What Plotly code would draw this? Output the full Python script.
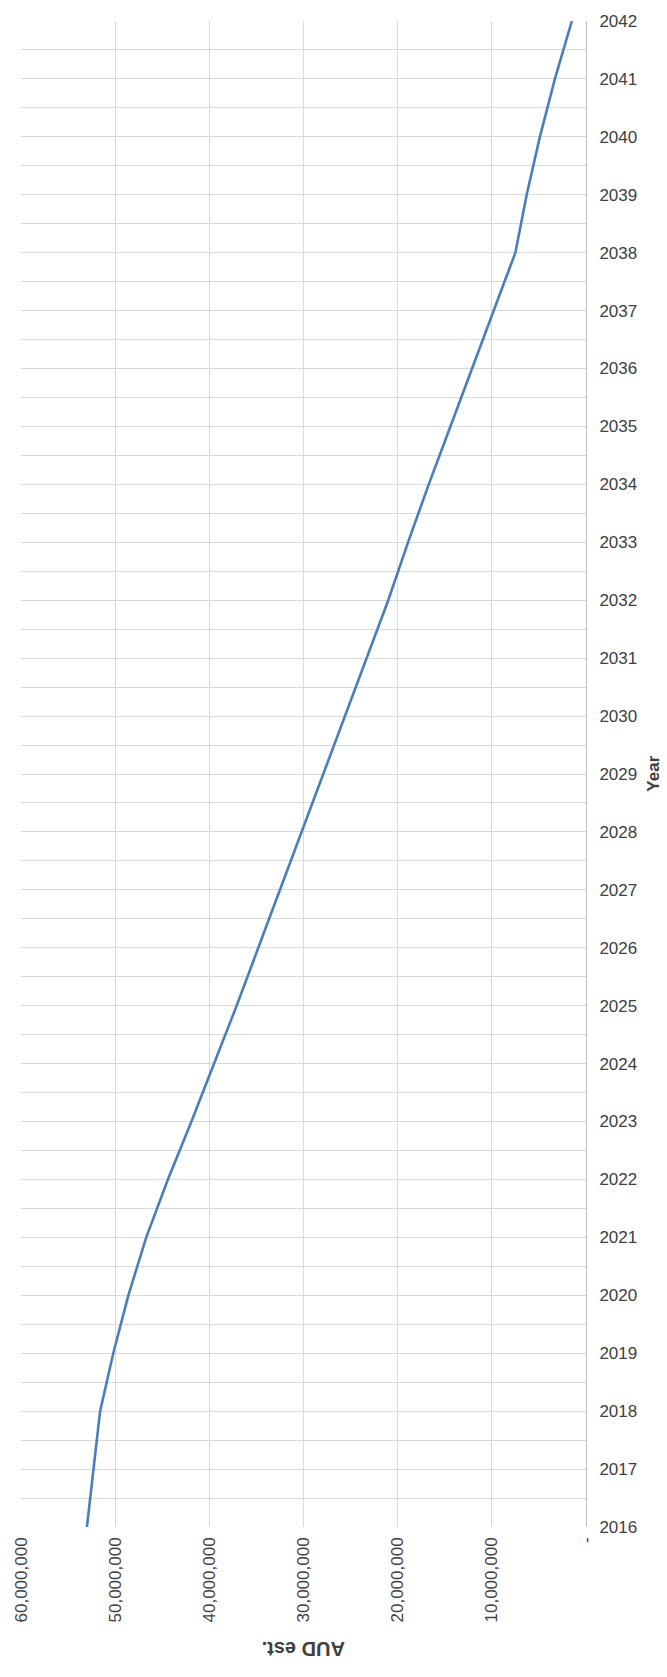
import plotly.graph_objects as go

years = list(range(2016, 2043))
aud_est = [53.0e6, 52.3e6, 51.6e6, 50.2e6, 48.6e6, 46.7e6, 44.4e6, 41.9e6, 39.5e6,
           37.1e6, 34.8e6, 32.5e6, 30.2e6, 27.9e6, 25.6e6, 23.3e6, 21.0e6, 18.9e6,
           16.7e6, 14.4e6, 12.1e6, 9.8e6, 7.5e6, 6.3e6, 4.9e6, 3.3e6, 1.5e6]

value_ticks = [60e6, 50e6, 40e6, 30e6, 20e6, 10e6, 0]
value_tick_labels = ["60,000,000", "50,000,000", "40,000,000", "30,000,000",
                     "20,000,000", "10,000,000", "-"]

FONT = "Liberation Sans"
TXT = "#404040"
GRID = "#d9d9d9"

fig = go.Figure()
fig.add_trace(go.Scatter(
    x=aud_est, y=years, mode="lines",
    line=dict(color="#4a7ebb", width=2.6),
    hoverinfo="x+y", showlegend=False,
))

fig.update_layout(
    width=667, height=1677,
    margin=dict(l=19, r=81, t=12, b=150),
    paper_bgcolor="white", plot_bgcolor="white",
    font=dict(family=FONT, size=17, color=TXT),
    xaxis=dict(
        range=[60e6, 0],
        tickvals=value_ticks, ticktext=value_tick_labels,
        tickangle=-90,
        showgrid=True, gridcolor=GRID, gridwidth=1,
        zeroline=False, showline=False, ticks="",
        ticklabelstandoff=6,
        tickfont=dict(family=FONT, size=17, color=TXT),
    ),
    yaxis=dict(
        range=[2016, 2042], side="right",
        tickmode="linear", tick0=2016, dtick=1,
        showgrid=True, gridcolor=GRID, gridwidth=1,
        minor=dict(dtick=0.5, showgrid=True, gridcolor=GRID, gridwidth=1),
        zeroline=False, showline=True, linecolor="#bfbfbf", linewidth=1,
        ticks="", ticklabelstandoff=9,
        tickfont=dict(family=FONT, size=17, color=TXT),
    ),
    annotations=[
        dict(text="<b>AUD est.</b>", xref="paper", yref="paper",
             x=0.5, y=-0.081, yanchor="middle", xanchor="center",
             textangle=180, showarrow=False,
             font=dict(family=FONT, size=20, color=TXT)),
        dict(text="<b>Year</b>", xref="paper", yref="paper",
             x=1.118, y=0.5, xanchor="center", yanchor="middle",
             textangle=-90, showarrow=False,
             font=dict(family=FONT, size=17, color=TXT)),
    ],
)

fig.write_html("out.html")
